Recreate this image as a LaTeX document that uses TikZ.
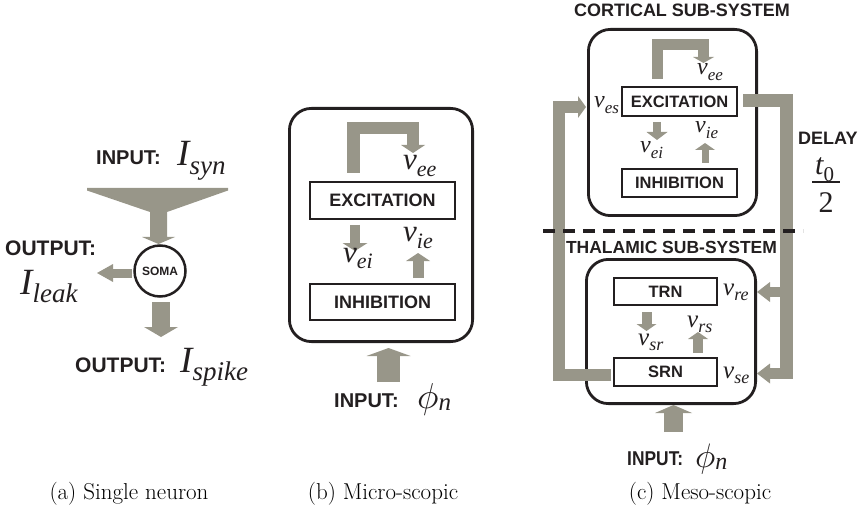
\documentclass[tikz,border=0pt]{standalone}
\usepackage{graphicx}
\usepackage{fontspec}
\newfontfamily\hv{Liberation Sans}
\newfontfamily\tms{Liberation Serif}
\usetikzlibrary{arrows.meta}
\definecolor{ink}{RGB}{35,31,32}
\definecolor{arr}{RGB}{152,150,137}
\newcommand{\hvb}[1]{\fontsize{#1}{#1}\selectfont\hv\bfseries}
\newcommand{\isym}[4]{{\tms\itshape\fontsize{#1}{#1}\selectfont #3\raisebox{-0.22em}{\fontsize{#2}{#2}\selectfont #4}}}
\newcommand{\phin}[2]{\scalebox{#1}{$\phi$}\raisebox{-0.22em}{\tms\itshape\fontsize{#2}{#2}\selectfont n}}
\tikzset{
  lbl/.style={inner sep=0pt, text=ink},
  rbox/.style={draw=ink, line width=2.8pt, rounded corners=22pt},
  sbox/.style={draw=ink, line width=2pt, inner sep=0pt, text=ink},
  garr/.style n args={3}{draw=arr, line width=#1, line join=miter, line cap=butt,
     -{Triangle[width=#2, length=#3, line width=0pt]}},
  captxt/.style={inner sep=0pt, anchor=base, font=\fontsize{23}{23}\selectfont}
}
\begin{document}
\begin{tikzpicture}[x=1pt,y=-1pt]
\useasboundingbox (0,0) rectangle (862,513);

% ---------------- (a) single neuron ----------------
\node[lbl, anchor=base west, font=\hvb{20}] (ina) at (96,165) {INPUT:};
\node[lbl, anchor=base west] (isyn) at (177,166) {\isym{37}{27}{I}{syn}};
\fill[arr] (87,188) -- (228,188) -- (228,190.5) -- (167,212) -- (167,237) -- (175,237)
  -- (158.5,244) -- (142,237) -- (150,237) -- (150,212) -- (87,190.5) -- cycle;
\node[draw=ink, line width=2.5pt, circle, minimum size=51pt, inner sep=0pt,
  text=ink, font=\hvb{12}] (soma) at (160,271) {SOMA};
\coordinate (leakT) at (132,273);
\coordinate (leakH) at (97,273);
\draw[garr={9pt}{18pt}{16pt}] (leakT) -- (leakH);
\coordinate (spkT) at (161,302);
\coordinate (spkH) at (161,337);
\draw[garr={18pt}{34pt}{10pt}] (spkT) -- (spkH);
\node[lbl, anchor=base west, font=\hvb{21}] (outa) at (5,255) {OUTPUT:};
\node[lbl, anchor=base west] (ileak) at (20,294) {\isym{37}{27}{I}{leak}};
\node[lbl, anchor=base west, font=\hvb{21}] (outb) at (75,372) {OUTPUT:};
\node[lbl, anchor=base west] (ispike) at (180,372) {\isym{37}{27}{I}{spike}};

% ---------------- (b) micro-scopic ----------------
\draw[rbox] (289.4,108.4) rectangle (472.6,341.6);
\node[sbox, minimum width=145pt, minimum height=37pt, font=\hvb{18}] (exb) at (382.5,200.5) {EXCITATION};
\node[sbox, minimum width=145pt, minimum height=36pt, font=\hvb{18}] (inb) at (382.5,302) {INHIBITION};
\coordinate (lpb1) at (353.5,173);
\coordinate (lpb2) at (353.5,128);
\coordinate (lpb3) at (413,128);
\coordinate (lpb4) at (413,153);
\draw[garr={12.5pt}{24pt}{8pt}] (lpb1) -- (lpb2) -- (lpb3) -- (lpb4);
\node[lbl, anchor=base west] (veeb) at (403,170) {\isym{31}{22}{v}{ee}};
\coordinate (eib1) at (355,225);
\coordinate (eib2) at (355,251);
\draw[garr={10pt}{25pt}{8pt}] (eib1) -- (eib2);
\node[lbl, anchor=base west] (veib) at (343,262) {\isym{31}{22}{v}{ei}};
\coordinate (ieb1) at (418,278);
\coordinate (ieb2) at (418,253);
\draw[garr={11pt}{24pt}{8pt}] (ieb1) -- (ieb2);
\node[lbl, anchor=base west] (vieb) at (403,242) {\isym{31}{22}{v}{ie}};
\coordinate (inpb1) at (388.5,382);
\coordinate (inpb2) at (388.5,348);
\draw[garr={23pt}{44pt}{8pt}] (inpb1) -- (inpb2);
\node[lbl, anchor=base west, font=\hvb{20}] (inputb) at (334,407) {INPUT:};
\node[lbl, anchor=base west] (phib) at (417,408) {\phin{3.6}{25}};

% ---------------- (c) meso-scopic ----------------
\node[lbl, anchor=base, font=\hvb{18}] (ctit) at (682,17) {CORTICAL SUB-SYSTEM};
\draw[rbox] (588.4,29.4) rectangle (756.6,215.6);
\node[sbox, minimum width=115pt, minimum height=29pt, font=\hvb{16.5}] (exc) at (679.5,101.5) {EXCITATION};
\node[sbox, minimum width=115pt, minimum height=28pt, font=\hvb{16.5}] (inc) at (679.5,183) {INHIBITION};
\coordinate (lpc1) at (657.5,79);
\coordinate (lpc2) at (657.5,45);
\coordinate (lpc3) at (703.5,45);
\coordinate (lpc4) at (703.5,63);
\draw[garr={11pt}{21pt}{6pt}] (lpc1) -- (lpc2) -- (lpc3) -- (lpc4);
\node[lbl, anchor=base west] (veec) at (697,75) {\isym{24}{17}{v}{ee}};
\node[lbl, anchor=base west] (vesc) at (594,108) {\isym{24}{17}{v}{es}};
\coordinate (eic1) at (657,122);
\coordinate (eic2) at (657,140);
\draw[garr={8pt}{21pt}{8pt}] (eic1) -- (eic2);
\node[lbl, anchor=base west] (veic) at (640,153) {\isym{24}{17}{v}{ei}};
\coordinate (iec1) at (705,163);
\coordinate (iec2) at (705,143);
\draw[garr={7pt}{20pt}{7pt}] (iec1) -- (iec2);
\node[lbl, anchor=base west] (viec) at (695,133) {\isym{24}{17}{v}{ie}};

\node[lbl, anchor=base west, font=\hvb{18}] (delay) at (798,145) {DELAY};
\node[lbl, anchor=base west] (tnum) at (815,175) {{\tms\itshape\fontsize{30}{30}\selectfont t\raisebox{-0.22em}{\upshape\fontsize{21}{21}\selectfont 0}}};
\coordinate (barL) at (812,182);
\coordinate (barR) at (840,182);
\draw[ink, line width=1.5pt] (barL) -- (barR);
\node[lbl, anchor=base, font=\tms\fontsize{30}{30}\selectfont] (tden) at (826,213) {2};

% thalamic
\node[lbl, anchor=base, font=\hvb{17.5}] (ttit) at (671.5,253) {THALAMIC SUB-SYSTEM};
\draw[rbox] (586.4,259.4) rectangle (755.6,403.6);
\node[sbox, minimum width=103pt, minimum height=27pt, font=\hvb{16.5}] (trn) at (665.5,291.5) {TRN};
\node[sbox, minimum width=103pt, minimum height=28pt, font=\hvb{16.5}] (srn) at (665.5,372) {SRN};
\node[lbl, anchor=base west] (vre) at (723,295) {\isym{25}{18}{v}{re}};
\node[lbl, anchor=base west] (vse) at (723,378) {\isym{25}{18}{v}{se}};
\coordinate (src1) at (646.5,312);
\coordinate (src2) at (646.5,331);
\draw[garr={10pt}{20pt}{7pt}] (src1) -- (src2);
\node[lbl, anchor=base west] (vsr) at (638,345) {\isym{25}{18}{v}{sr}};
\coordinate (rsc1) at (698,353);
\coordinate (rsc2) at (698,332);
\draw[garr={10pt}{20pt}{7pt}] (rsc1) -- (rsc2);
\node[lbl, anchor=base west] (vrs) at (687,327) {\isym{25}{18}{v}{rs}};

% long connectors
\coordinate (fb1) at (611,375);
\coordinate (fb2) at (558.5,375);
\coordinate (fb3) at (558.5,107);
\coordinate (fb4) at (586,107);
\draw[garr={12pt}{22pt}{8pt}] (fb1) -- (fb2) -- (fb3) -- (fb4);
\coordinate (out1) at (743,101);
\coordinate (out2) at (786.5,101);
\coordinate (out3) at (786.5,379);
\draw[arr, line width=13pt, line join=miter] (out1) -- (out2) -- (out3);
\coordinate (reT) at (786.5,292);
\coordinate (reH) at (757,292);
\draw[garr={10pt}{20pt}{13pt}] (reT) -- (reH);
\coordinate (seT) at (786.5,373.5);
\coordinate (seH) at (757,373.5);
\draw[garr={11pt}{20pt}{13pt}] (seT) -- (seH);

\coordinate (dashL) at (543,231);
\coordinate (dashR) at (803,231);
\draw[ink, line width=4.5pt, dash pattern=on 12pt off 8pt] (dashL) -- (dashR);

\coordinate (inpc1) at (673.5,432);
\coordinate (inpc2) at (673.5,405);
\draw[garr={19pt}{37pt}{8pt}] (inpc1) -- (inpc2);
\node[lbl, anchor=base west, font=\hvb{20}] (inputc) at (627,465) {\scalebox{0.87}[1]{INPUT:}};
\node[lbl, anchor=base west] (phic) at (695,467) {\phin{3.4}{24}};

% captions
\node[captxt] (capa) at (129,499) {(a) Single neuron};
\node[captxt] (capb) at (383,499) {(b) Micro-scopic};
\node[captxt] (capc) at (700,499) {(c) Meso-scopic};
\end{tikzpicture}
\end{document}
